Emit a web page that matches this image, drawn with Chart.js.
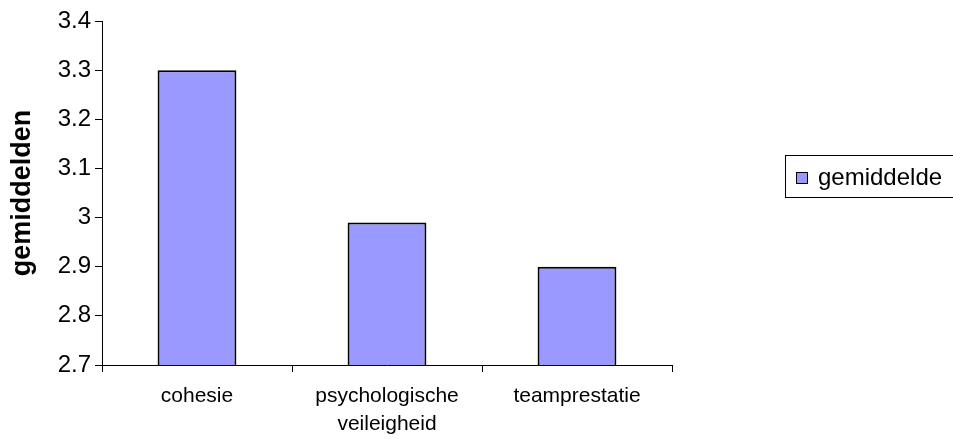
<!DOCTYPE html>
<html>
<head>
<meta charset="utf-8">
<script src="https://cdn.jsdelivr.net/npm/chart.js@4/dist/chart.umd.min.js"></script>
<style>
  html, body { margin: 0; padding: 0; background: #fff; overflow: hidden; }
  canvas { display: block; }
</style>
</head>
<body>
<canvas id="chart" width="953" height="439"></canvas>
<script>
// Category labels (multi-line where the label wraps)
const categories = ['cohesie', ['psychologische', 'veileigheid'], 'teamprestatie'];
// Mean score per category
const gemiddelde = [3.3, 2.99, 2.9];
const seriesName = 'gemiddelde';
const axisTitle = 'gemiddelden';
// Value axis range
const yMin = 2.7;
const yMax = 3.4;
const yStep = 0.1;

const FONT = '"Liberation Sans", Arial, Helvetica, sans-serif';

// Legend drawn as a framed box to the right of the plot
const boxedLegend = {
  id: 'boxedLegend',
  afterDraw(chart) {
    const ctx = chart.ctx;
    const ds = chart.data.datasets[0];
    ctx.save();
    ctx.strokeStyle = '#000';
    ctx.lineWidth = 1;
    ctx.strokeRect(785.5, 155.5, 175, 42);
    ctx.fillStyle = ds.backgroundColor;
    ctx.fillRect(796.5, 172.5, 11, 11);
    ctx.strokeRect(796.5, 172.5, 11, 11);
    ctx.fillStyle = '#000';
    ctx.font = '24px ' + FONT;
    ctx.textBaseline = 'middle';
    ctx.textAlign = 'left';
    ctx.fillText(ds.label, 818, 178);
    ctx.restore();
  }
};

new Chart(document.getElementById('chart').getContext('2d'), {
  type: 'bar',
  data: {
    labels: categories,
    datasets: [{
      label: seriesName,
      data: gemiddelde,
      backgroundColor: '#9999FF',
      borderColor: '#000',
      borderWidth: 2,
      categoryPercentage: 1,
      barPercentage: 0.415
    }]
  },
  options: {
    responsive: false,
    animation: false,
    devicePixelRatio: 1,
    layout: { padding: { left: 0, right: 281, top: 21, bottom: 0 } },
    plugins: {
      legend: { display: false },
      tooltip: { enabled: false }
    },
    scales: {
      x: {
        grid: { display: true, drawOnChartArea: false, drawTicks: true, tickLength: 7, color: '#000', offset: true },
        border: { display: true, color: '#000', width: 1 },
        ticks: {
          color: '#000',
          font: { family: FONT, size: 21, lineHeight: 1.35 },
          padding: 10,
          maxRotation: 0,
          autoSkip: false
        },
        afterFit(scale) {
          scale.height = 74;
          scale.paddingLeft = 0;
          scale.paddingRight = 0;
        }
      },
      y: {
        min: yMin,
        max: yMax,
        ticks: {
          stepSize: yStep,
          color: '#000',
          font: { family: FONT, size: 24 },
          padding: 4,
          callback: v => String(+v.toFixed(1))
        },
        grid: { display: true, drawOnChartArea: false, drawTicks: true, tickLength: 7, color: '#000' },
        border: { display: true, color: '#000', width: 1 },
        title: {
          display: true,
          text: axisTitle,
          color: '#000',
          font: { family: FONT, size: 27, weight: 'bold' },
          padding: { top: 6, bottom: 0 }
        },
        afterFit(scale) {
          scale.width = 102;
          scale.paddingTop = 0;
          scale.paddingBottom = 0;
        }
      }
    }
  },
  plugins: [boxedLegend]
});
</script>
</body>
</html>
